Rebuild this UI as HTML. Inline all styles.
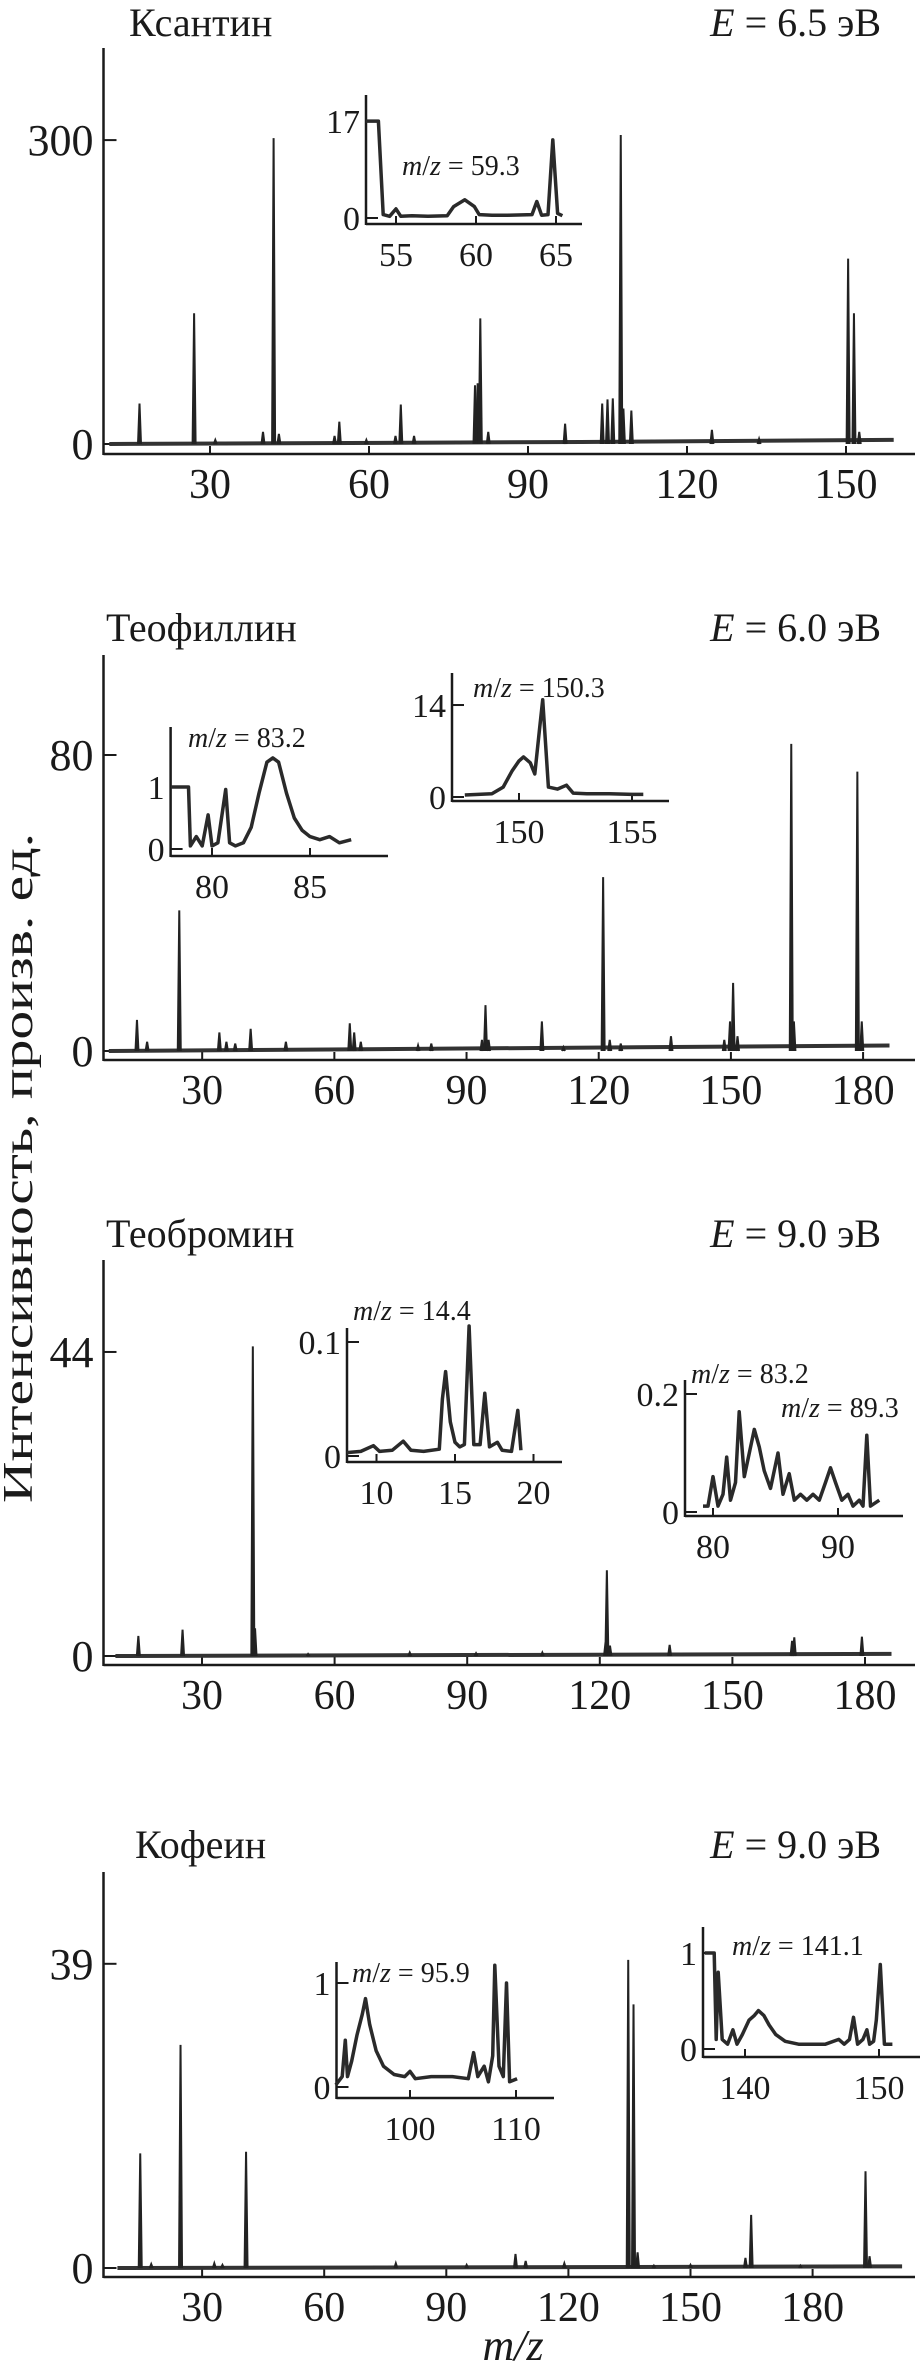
<!DOCTYPE html>
<html><head><meta charset="utf-8"><style>
html,body{margin:0;padding:0;background:#fff;}
svg{display:block;}
text{font-family:"Liberation Serif",serif;fill:#1a1a1a;}
</style></head><body>
<svg id="chart" width="922" height="2373" viewBox="0 0 922 2373" xmlns="http://www.w3.org/2000/svg">
<text x="32" y="1168" transform="rotate(-90 32 1168)" text-anchor="middle" font-size="42" textLength="670" lengthAdjust="spacingAndGlyphs">Интенсивность, произв. ед.</text>
<text x="513" y="2360" text-anchor="middle" font-size="44" font-style="italic">m/z</text>
</svg>
<script>
// ---- Main spectra data (m/z, intensity) ----
const p1Mz = [16.7,27,31,40,42,43,53.5,54.4,59.5,65,66,68.5,80,80.5,81,82.5,97,104,105,106,107.5,108,109.5,124.7,133.6,150.4,151.5,152.5];
const p1H  = [40,129,4,12,302,10,8,22,4,8,39,8,58,60,124,12,20,40,44,45,305,35,33,14,5,183,129,12];
const p1BaseMz = [11,100,159];
const p1BaseH = [0,2,4];
const p1XTicks = [30,60,90,120,150];
const p1YTicks = [0,300];

const p2Mz = [15.2,17.5,24.8,33.9,35.5,37.5,41,49,63.5,64.5,66,79,82,93.5,94.3,95,107.1,112,121,122.5,125,136.4,148.5,149.8,150.5,151.5,163.7,164.3,178.7,179.7];
const p2H  = [8.4,2.5,38,5,2.5,2,6,2.5,7.5,5,2.5,1.5,2,3,12.4,3,8,1,47,3,2,4,3,8,18.4,4,83,8,75.5,8];
const p2BaseMz = [8.8,186];
const p2BaseH = [0,1.5];
const p2XTicks = [30,60,90,120,150,180];
const p2YTicks = [0,80];

const p3Mz = [15.6,25.6,41.5,42,54,77,92,107,121.3,121.6,122.3,135.8,163.5,164,179.3];
const p3H  = [2.9,3.8,44.8,4,0.3,0.5,0.4,0.5,2,12.4,1.5,1.6,2.2,2.7,2.8];
const p3BaseMz = [10.4,186];
const p3BaseH = [0,0.3];
const p3XTicks = [30,60,90,120,150,180];
const p3YTicks = [0,44];

const p4Mz = [14.8,17.5,24.7,33,35,40.8,77.6,95,107,109.5,119,134.7,136,137,141,150,163.5,164.9,177,193,194];
const p4H  = [14.7,0.5,28.6,0.6,0.4,14.9,0.6,0.4,1.8,0.9,0.6,39.5,33.8,2,0.3,0.4,1.3,6.8,0.3,12.4,1.5];
const p4BaseMz = [9.2,202];
const p4BaseH = [0,0.2];
const p4XTicks = [30,60,90,120,150,180];
const p4YTicks = [0,39];

// ---- Inset data ----
const i1Mz = [53.1,53.9,54.2,54.6,55.0,55.3,56,57,58.2,58.6,59.3,59.9,60.2,61,62,63.5,63.8,64.1,64.5,64.8,65.1,65.4];
const i1V  = [17,17,0.6,0.3,1.6,0.3,0.4,0.3,0.4,2.0,3.2,2.0,0.6,0.5,0.5,0.6,2.9,0.5,0.6,13.7,0.8,0.4];
const i2aMz = [77.9,78.8,78.9,79.2,79.5,79.8,80.0,80.3,80.7,80.9,81.2,81.6,82.0,82.4,82.8,83.1,83.4,83.8,84.2,84.6,85.0,85.5,86,86.5,87.1];
const i2aV  = [1,1,0.05,0.2,0.05,0.55,0.05,0.1,0.96,0.1,0.05,0.1,0.35,0.9,1.4,1.47,1.4,0.9,0.5,0.3,0.2,0.15,0.2,0.1,0.15];
const i2bMz = [147.6,148.2,148.8,149.3,149.7,150.0,150.2,150.5,150.7,150.9,151.05,151.3,151.7,152.1,152.4,153,154,155,155.5];
const i2bV  = [0.3,0.4,0.5,1.5,4,5.5,6.1,5.2,3.5,10,14.8,1.5,1.2,1.8,0.6,0.5,0.5,0.4,0.4];
const i3aMz = [8.1,9,9.8,10.2,11,11.7,12.2,13,14,14.2,14.4,14.7,15,15.3,15.6,15.9,16.2,16.6,16.9,17.2,17.7,18,18.6,19.0,19.2];
const i3aV  = [0.003,0.004,0.009,0.004,0.005,0.013,0.005,0.004,0.006,0.05,0.074,0.03,0.012,0.008,0.01,0.114,0.01,0.01,0.055,0.008,0.012,0.005,0.004,0.04,0.005];
const i3bMz = [79.2,79.6,80.0,80.4,80.8,81.1,81.4,81.8,82.1,82.5,82.9,83.3,83.7,84.1,84.6,85.2,85.6,86.1,86.5,87,87.5,88,88.5,89,89.4,89.8,90.3,90.8,91.2,91.7,92.0,92.3,92.6,93.3];
const i3bV  = [0.01,0.01,0.06,0.01,0.03,0.093,0.02,0.05,0.17,0.06,0.1,0.14,0.11,0.07,0.04,0.1,0.03,0.065,0.02,0.03,0.02,0.03,0.02,0.05,0.075,0.05,0.02,0.03,0.01,0.02,0.01,0.13,0.01,0.02];
const i4aMz = [93.0,93.6,93.9,94.1,94.5,95.0,95.5,95.8,96.2,96.8,97.5,98.5,99.5,100,100.5,102,104,105.5,106.0,106.4,107.0,107.4,107.8,108.0,108.4,108.8,109.1,109.4,110.1];
const i4aV  = [0.02,0.1,0.45,0.1,0.25,0.5,0.7,0.85,0.6,0.35,0.2,0.12,0.1,0.15,0.08,0.1,0.1,0.08,0.33,0.1,0.2,0.05,0.3,1.17,0.2,0.1,1.0,0.05,0.08];
const i4bMz = [137.0,137.7,137.85,138.0,138.3,138.7,139.1,139.4,139.8,140.3,140.7,141.0,141.4,141.8,142.3,143,144,145,146,147,147.4,147.8,148.1,148.4,148.8,149.1,149.3,149.6,149.8,150.1,150.4,151];
const i4bV  = [1,1,0.1,0.8,0.1,0.05,0.2,0.05,0.15,0.3,0.35,0.4,0.35,0.25,0.15,0.08,0.05,0.05,0.05,0.1,0.05,0.1,0.33,0.05,0.1,0.2,0.05,0.08,0.3,0.88,0.05,0.05];

const svg = document.getElementById('chart');
const NS = 'http://www.w3.org/2000/svg';
function mk(tag, attrs, parent){ const e=document.createElementNS(NS,tag); for(const k in attrs) e.setAttribute(k,attrs[k]); (parent||svg).appendChild(e); return e; }
function txt(s, attrs, parent){ const e=mk('text',attrs,parent); e.textContent=s; return e; }

function panel(c){
  const g = mk('g',{});
  
  
  const X = v => c.x0 + v*c.k, Y = v => c.y0 - v*c.s;
  const ya = mk('line',{x1:c.ax,y1:c.top,x2:c.ax,y2:c.axisY+1,stroke:'#1a1a1a','stroke-width':2.5},g);
  
  
  const xa = mk('line',{x1:c.ax,y1:c.axisY,x2:c.right,y2:c.axisY,stroke:'#1a1a1a','stroke-width':2.5},g);
  
  
  c.xt.forEach(v=>{
    mk('line',{x1:X(v),y1:c.axisY,x2:X(v),y2:c.axisY-8,stroke:'#1a1a1a','stroke-width':2},g);
    const t = txt(String(v),{x:X(v),y:c.axisY+44,'text-anchor':'middle','font-size':42},g);
    
    
  });
  c.yt.forEach(v=>{
    mk('line',{x1:c.ax,y1:Y(v),x2:c.ax+13,y2:Y(v),stroke:'#1a1a1a','stroke-width':2},g);
    const t = txt(String(v),{x:c.ax-10,y:Y(v)+15,'text-anchor':'end','font-size':44},g);
    
    
  });
  let d='';
  c.bm.forEach((m,i)=>{ d += (i?'L':'M')+X(m).toFixed(1)+','+Y(c.bh[i]).toFixed(1); });
  const bl = mk('path',{d:d,fill:'none',stroke:'#333','stroke-width':4},g);
  
  
  c.mz.forEach((m,i)=>{
    const x=X(m), b=Y(0), t=Y(c.h[i]);
    const p = mk('path',{d:`M${x-1.5},${b}L${x},${t}L${x+1.5},${b}`,fill:'#222',stroke:'#222','stroke-width':2,'stroke-linejoin':'miter'},g);
    
    
  });
  const t1 = txt(c.title,{x:c.tx,y:c.ty,'font-size':40},g);
  
  
  const t2 = mk('text',{x:881,y:c.ty,'text-anchor':'end','font-size':40},g);
  t2.innerHTML = '<tspan font-style="italic">E</tspan> = '+c.energy+' эВ';
  
  
}

function inset(c){
  const g = mk('g',{});
  
  
  const X = v => c.xa + (v-c.xv)*c.k, Y = v => c.y0 - v*c.s;
  mk('line',{x1:c.ax,y1:c.top,x2:c.ax,y2:c.bot+1,stroke:'#1a1a1a','stroke-width':2.5},g);
  mk('line',{x1:c.ax,y1:c.bot,x2:c.right,y2:c.bot,stroke:'#1a1a1a','stroke-width':2.5},g);
  c.xt.forEach(v=>{
    mk('line',{x1:X(v),y1:c.bot,x2:X(v),y2:c.bot-8,stroke:'#1a1a1a','stroke-width':2},g);
    const t = txt(String(v),{x:X(v),y:c.bot+42,'text-anchor':'middle','font-size':34},g);
    
    
  });
  c.yt.forEach(v=>{
    mk('line',{x1:c.ax,y1:Y(v),x2:c.ax+12,y2:Y(v),stroke:'#1a1a1a','stroke-width':2},g);
    const t = txt(String(v),{x:c.ax-6,y:Y(v)+12,'text-anchor':'end','font-size':34},g);
    
    
  });
  let d='';
  c.mz.forEach((m,i)=>{ d += (i?'L':'M')+X(m).toFixed(1)+','+Y(c.v[i]).toFixed(1); });
  const p = mk('path',{d:d,fill:'none',stroke:'#2a2a2a','stroke-width':3.5,'stroke-linejoin':'round'},g);
  
  
  c.labels.forEach(l=>{
    const t = mk('text',{x:l[0],y:l[1]+10,'font-size':28},g);
    t.innerHTML = '<tspan font-style="italic">m</tspan>/<tspan font-style="italic">z</tspan> = '+l[2];
    
    
  });
}

panel({name:'xanthine-panel',title:'Ксантин',energy:'6.5',tx:129,ty:36,x0:51,k:5.3,y0:444,s:1.013,ax:103.5,top:48,axisY:454,right:915,xt:p1XTicks,yt:p1YTicks,mz:p1Mz,h:p1H,bm:p1BaseMz,bh:p1BaseH});
panel({name:'theophylline-panel',title:'Теофиллин',energy:'6.0',tx:106,ty:641,x0:70,k:4.406,y0:1051,s:3.7,ax:103.5,top:655,axisY:1060,right:915,xt:p2XTicks,yt:p2YTicks,mz:p2Mz,h:p2H,bm:p2BaseMz,bh:p2BaseH});
panel({name:'theobromine-panel',title:'Теобромин',energy:'9.0',tx:106,ty:1247,x0:69.4,k:4.42,y0:1656,s:6.91,ax:103.5,top:1260,axisY:1665,right:915,xt:p3XTicks,yt:p3YTicks,mz:p3Mz,h:p3H,bm:p3BaseMz,bh:p3BaseH});
panel({name:'caffeine-panel',title:'Кофеин',energy:'9.0',tx:135,ty:1858,x0:80,k:4.07,y0:2268,s:7.8,ax:103.5,top:1872,axisY:2277,right:915,xt:p4XTicks,yt:p4YTicks,mz:p4Mz,h:p4H,bm:p4BaseMz,bh:p4BaseH});

inset({name:'inset-xanthine-59',ax:366,top:95,bot:224,right:582,xa:396,xv:55,k:16,y0:218,s:5.7,xt:[55,60,65],yt:[0,17],mz:i1Mz,v:i1V,labels:[[402,165,'59.3']]});
inset({name:'inset-theophylline-83',ax:170.6,top:727,bot:856,right:388,xa:212,xv:80,k:19.6,y0:849,s:62,xt:[80,85],yt:[0,1],mz:i2aMz,v:i2aV,labels:[[188,737,'83.2']]});
inset({name:'inset-theophylline-150',ax:452,top:673,bot:801,right:669,xa:519,xv:150,k:22.6,y0:797,s:6.57,xt:[150,155],yt:[0,14],mz:i2bMz,v:i2bV,labels:[[473,687,'150.3']]});
inset({name:'inset-theobromine-14',ax:347,top:1328,bot:1462,right:562,xa:376.5,xv:10,k:15.7,y0:1456,s:1140,xt:[10,15,20],yt:[0,0.1],mz:i3aMz,v:i3aV,labels:[[353,1310,'14.4']]});
inset({name:'inset-theobromine-83',ax:685,top:1380,bot:1516,right:903,xa:713,xv:80,k:12.5,y0:1512,s:590,xt:[80,90],yt:[0,0.2],mz:i3bMz,v:i3bV,labels:[[691,1373,'83.2'],[781,1407,'89.3']]});
inset({name:'inset-caffeine-96',ax:336.5,top:1962,bot:2098,right:554,xa:410,xv:100,k:10.6,y0:2087,s:104,xt:[100,110],yt:[0,1],mz:i4aMz,v:i4aV,labels:[[352,1972,'95.9']]});
inset({name:'inset-caffeine-141',ax:703,top:1927,bot:2057,right:920,xa:745,xv:140,k:13.4,y0:2049,s:96,xt:[140,150],yt:[0,1],mz:i4bMz,v:i4bV,labels:[[732,1945,'141.1']]});
</script>
</body></html>
